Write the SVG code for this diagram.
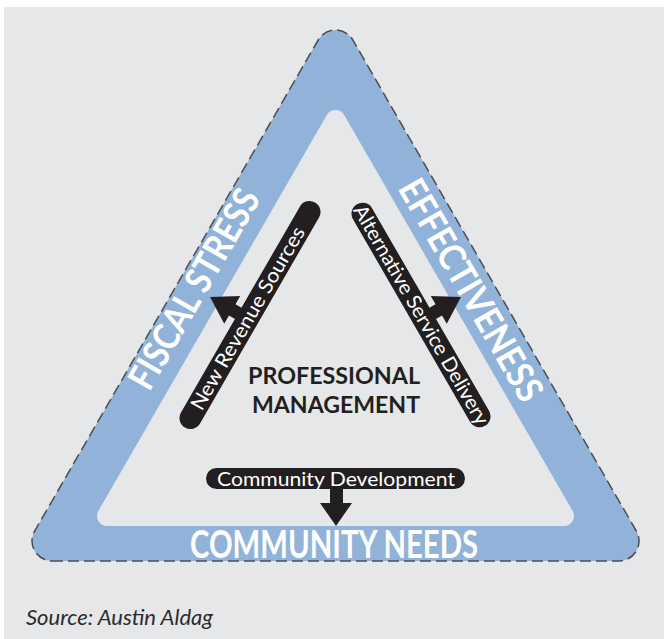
<svg xmlns="http://www.w3.org/2000/svg" width="664" height="639" viewBox="0 0 664 639">
  <style>
    .band-label { font-family: Lato, "Liberation Sans", sans-serif; font-weight: 700; fill: #ffffff; text-anchor: middle; }
    .bar { fill: #231f20; }
    .bar-text { font-family: Lato, "Liberation Sans", sans-serif; font-size: 20px; fill: #ffffff; text-anchor: middle; }
    .center-text { font-family: Lato, "Liberation Sans", sans-serif; font-weight: 700; font-size: 22px; fill: #231f20; text-anchor: middle; }
    .arrow { fill: #231f20; }
  </style>
  <rect x="0" y="0" width="664" height="639" fill="#ffffff"/>
  <rect x="4" y="7" width="660" height="632" fill="#e6e7e8"/>

  <g id="triangle">
    <path fill="#92b3d9" fill-rule="evenodd" d="M52,561 L619,561 A20,20 0 0 0 636.32,531 L352.82,40 A20,20 0 0 0 318.18,40 L34.68,531 A20,20 0 0 0 52,561 Z M107,526 L564,526 A10,10 0 0 0 572.66,511 L344.16,115 A10,10 0 0 0 326.84,115 L98.34,511 A10,10 0 0 0 107,526 Z"/>
    <path fill="none" stroke="#4d4d4f" stroke-width="1.5" stroke-dasharray="11 5" d="M52,561 L619,561 A20,20 0 0 0 636.32,531 L352.82,40 A20,20 0 0 0 318.18,40 L34.68,531 A20,20 0 0 0 52,561 Z"/>
  </g>

  <g id="fiscal-stress">
    <text class="band-label" font-size="37" transform="translate(194,289) rotate(-60)" x="0" y="13" textLength="224" lengthAdjust="spacingAndGlyphs">FISCAL STRESS</text>
  </g>
  <g id="effectiveness">
    <text class="band-label" font-size="37" transform="translate(471,290) rotate(60)" x="0" y="13" textLength="250" lengthAdjust="spacingAndGlyphs">EFFECTIVENESS</text>
  </g>
  <g id="community-needs">
    <text class="band-label" font-size="38" x="334" y="558" textLength="288" lengthAdjust="spacingAndGlyphs">COMMUNITY NEEDS</text>
  </g>

  <g id="new-revenue-sources" transform="translate(250,315) rotate(-60)">
    <rect class="bar" x="-130" y="-11" width="260" height="22" rx="11"/>
    <text class="bar-text" x="-4" y="6.5" textLength="208" lengthAdjust="spacingAndGlyphs">New Revenue Sources</text>
  </g>
  <g id="alternative-service-delivery" transform="translate(421,315) rotate(60)">
    <rect class="bar" x="-128" y="-11" width="256" height="22" rx="11"/>
    <text class="bar-text" x="0" y="6.5" textLength="250" lengthAdjust="spacingAndGlyphs">Alternative Service Delivery</text>
  </g>
  <g id="community-development">
    <rect class="bar" x="206" y="468" width="259" height="21" rx="10.5"/>
    <text class="bar-text" font-size="21" x="336" y="485.5" textLength="238" lengthAdjust="spacingAndGlyphs">Community Development</text>
  </g>

  <g id="professional-management">
    <text class="center-text" x="334" y="384" textLength="172" lengthAdjust="spacingAndGlyphs">PROFESSIONAL</text>
    <text class="center-text" x="336" y="413" textLength="168" lengthAdjust="spacingAndGlyphs">MANAGEMENT</text>
  </g>

  <g id="connectors">
    <g transform="translate(250,315) rotate(-60)">
      <rect class="arrow" x="-10.9" y="-19" width="13" height="10"/>
      <polygon class="arrow" points="-20.4,-18 11.6,-18 -4.4,-43.6"/>
    </g>
    <g transform="translate(421,315) rotate(60)">
      <rect class="arrow" x="-2.1" y="-19" width="13" height="10"/>
      <polygon class="arrow" points="-11.6,-18 20.4,-18 4.4,-43.6"/>
    </g>
    <rect class="arrow" x="330" y="488" width="13" height="16"/>
    <polygon class="arrow" points="320,503 352,503 336,526"/>
  </g>

  <g id="source">
    <text x="26" y="625" font-family="Lato, 'Liberation Sans', sans-serif" font-style="italic" font-size="21" fill="#2b2b2d" textLength="187" lengthAdjust="spacingAndGlyphs">Source: Austin Aldag</text>
  </g>
</svg>
